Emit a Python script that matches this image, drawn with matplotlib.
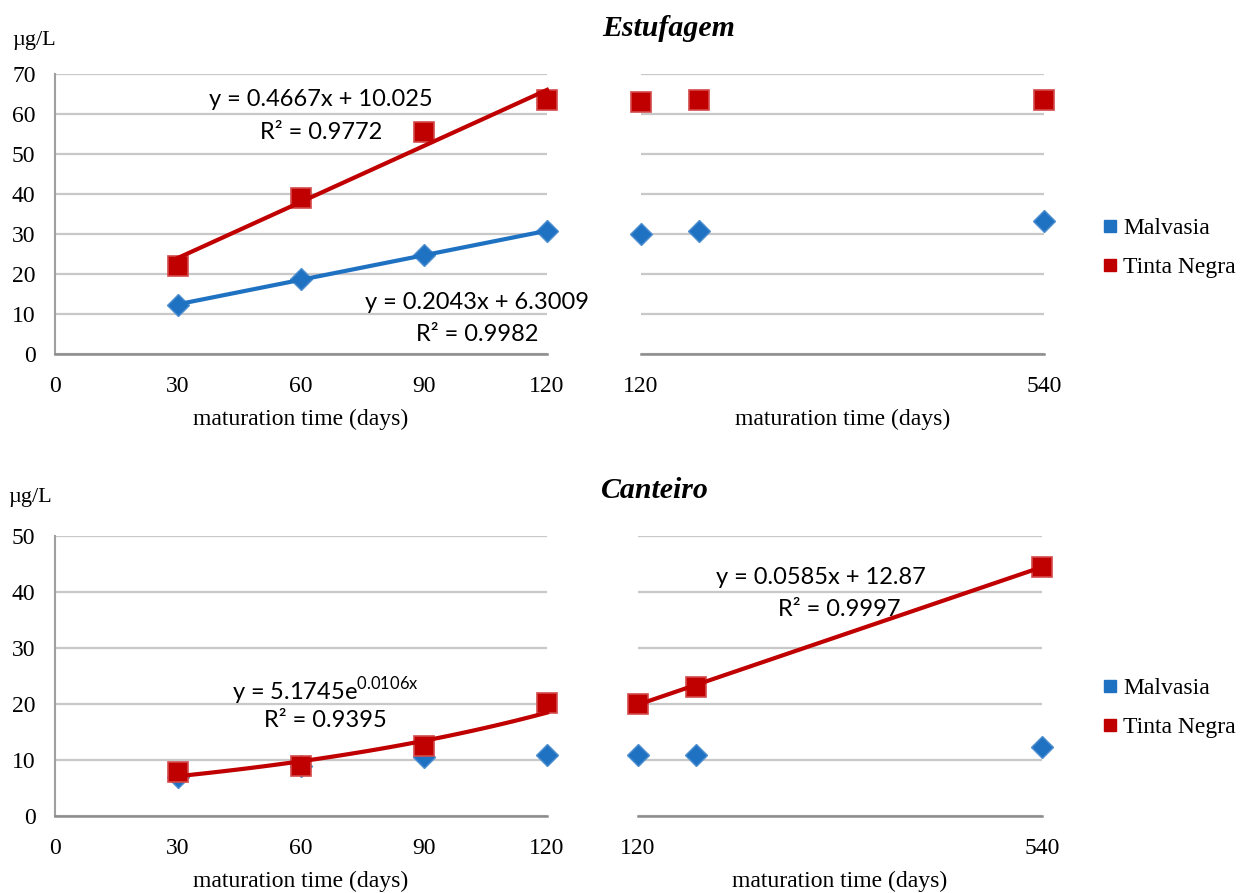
import numpy as np
import matplotlib
matplotlib.use('Agg')
import matplotlib.pyplot as plt
from matplotlib.lines import Line2D

# ---- data ----
days_short = [30, 60, 90, 120]
days_long = [120, 180, 540]

est_malv_short = [12.2, 18.8, 24.8, 30.7]
est_tinta_short = [22.1, 39.1, 55.4, 63.4]
est_malv_long = [30.1, 30.8, 33.3]
est_tinta_long = [63.0, 63.4, 63.6]

can_malv_short = [6.9, 8.9, 10.6, 10.9]
can_tinta_short = [7.9, 8.9, 12.5, 20.2]
can_malv_long = [10.9, 10.9, 12.3]
can_tinta_long = [20.0, 23.0, 44.4]

# trendline coefficients (as printed in the chart)
est_tinta_fit = (0.4667, 10.025, 0.9772)
est_malv_fit = (0.2043, 6.3009, 0.9982)
can_tinta_exp = (5.1745, 0.0106, 0.9395)
can_tinta_long_fit = (0.0585, 12.87, 0.9997)

blue = '#1f72c2'
blue_edge = '#4f8fd0'
red = '#c00000'
red_edge = '#d44a4a'
serif = 'Liberation Serif'
sans = 'Lato'
fs = 17
efs = 17

plt.rcParams['mathtext.fontset'] = 'custom'
plt.rcParams['mathtext.rm'] = sans

fig = plt.figure(figsize=(12.47, 8.93), dpi=100)
W, H = 1247.0, 893.0

def px_axes(l, r, t, b):
    return fig.add_axes([l / W, 1 - b / H, (r - l) / W, (b - t) / H])

ax1 = px_axes(55, 547, 74, 354)
ax2 = px_axes(641, 1044, 74, 354)
ax3 = px_axes(55, 547, 536, 816)
ax4 = px_axes(638, 1042, 536, 816)

def style(ax, ymax, xlim, xticks, left):
    ax.set_xlim(*xlim)
    ax.set_ylim(0, ymax)
    ax.set_yticks(np.arange(0, ymax + 1, 10))
    ax.set_xticks(xticks)
    ax.grid(axis='y', color='#c8c8c8', linewidth=1.6)
    ax.set_axisbelow(True)
    for s in ['top', 'right']:
        ax.spines[s].set_visible(False)
    ax.spines['bottom'].set_color('#8c8c8c')
    ax.spines['bottom'].set_linewidth(1.8)
    if left:
        ax.spines['left'].set_color('#a0a0a0')
        ax.spines['left'].set_linewidth(1.5)
        ax.tick_params(axis='y', length=0, pad=14, labelsize=fs)
        for t in ax.get_yticklabels():
            t.set_fontfamily(serif)
    else:
        ax.spines['left'].set_visible(False)
        ax.tick_params(axis='y', length=0, labelleft=False)
    ax.tick_params(axis='x', length=0, pad=16, labelsize=fs)
    for t in ax.get_xticklabels():
        t.set_fontfamily(serif)
    ax.set_xlabel('maturation time (days)', fontfamily=serif, fontsize=fs, labelpad=8)

style(ax1, 70, (0, 120), [0, 30, 60, 90, 120], True)
style(ax2, 70, (120, 540), [120, 540], False)
style(ax3, 50, (0, 120), [0, 30, 60, 90, 120], True)
style(ax4, 50, (120, 540), [120, 540], False)

def pts(ax, x, y, kind):
    if kind == 'm':
        ax.plot(x, y, 'D', color=blue, mec=blue_edge, mew=1, ms=11.5, ls='none', clip_on=False, zorder=3)
    else:
        ax.plot(x, y, 's', color=red, mec=red_edge, mew=1.2, ms=14.5, ls='none', clip_on=False, zorder=4)

# top-left
pts(ax1, days_short, est_malv_short, 'm')
pts(ax1, days_short, est_tinta_short, 't')
xs = np.array([30, 120])
ax1.plot(xs, est_malv_fit[0] * xs + est_malv_fit[1], color=blue, lw=3, zorder=5, clip_on=False)
ax1.plot(xs, est_tinta_fit[0] * xs + est_tinta_fit[1], color=red, lw=3, zorder=5, clip_on=False)
ax1.text(64.9, 63.5, 'y = %.4fx + %.3f' % est_tinta_fit[:2], fontfamily=sans, fontsize=efs, ha='center', va='center')
ax1.text(64.9, 55.3, 'R² = %.4f' % est_tinta_fit[2], fontfamily=sans, fontsize=efs, ha='center', va='center')
ax1.text(103, 12.8, 'y = %.4fx + %.4f' % est_malv_fit[:2], fontfamily=sans, fontsize=efs, ha='center', va='center')
ax1.text(103, 4.8, 'R² = %.4f' % est_malv_fit[2], fontfamily=sans, fontsize=efs, ha='center', va='center')

# top-right
pts(ax2, days_long, est_malv_long, 'm')
pts(ax2, days_long, est_tinta_long, 't')

# bottom-left
pts(ax3, days_short, can_malv_short, 'm')
pts(ax3, days_short, can_tinta_short, 't')
xc = np.linspace(30, 120, 100)
ax3.plot(xc, can_tinta_exp[0] * np.exp(can_tinta_exp[1] * xc), color=red, lw=3, zorder=5, clip_on=False)
ax3.text(65.9, 22.4, r'y = 5.1745e$^{\mathrm{0.0106x}}$', fontfamily=sans, fontsize=efs, ha='center', va='center')
ax3.text(65.9, 17.1, 'R² = %.4f' % can_tinta_exp[2], fontfamily=sans, fontsize=efs, ha='center', va='center')

# bottom-right
pts(ax4, days_long, can_malv_long, 'm')
pts(ax4, days_long, can_tinta_long, 't')
xl = np.array([120, 540])
ax4.plot(xl, can_tinta_long_fit[0] * xl + can_tinta_long_fit[1], color=red, lw=3, zorder=5, clip_on=False)
ax4.text(310, 42.5, 'y = %.4fx + %.2f' % can_tinta_long_fit[:2], fontfamily=sans, fontsize=efs, ha='center', va='center')
ax4.text(329, 36.8, 'R² = %.4f' % can_tinta_long_fit[2], fontfamily=sans, fontsize=efs, ha='center', va='center')

# titles and units
fig.text(669 / W, 1 - 28 / H, 'Estufagem', fontfamily=serif, fontsize=21.5, fontweight='bold', fontstyle='italic', ha='center', va='center')
fig.text(655 / W, 1 - 490 / H, 'Canteiro', fontfamily=serif, fontsize=21.5, fontweight='bold', fontstyle='italic', ha='center', va='center')
fig.text(34 / W, 1 - 41 / H, 'µg/L', fontfamily=serif, fontsize=16, ha='center', va='center')
fig.text(30 / W, 1 - 497 / H, 'µg/L', fontfamily=serif, fontsize=16, ha='center', va='center')

handles = [Line2D([], [], marker='s', color=blue, ls='none', ms=8.5),
           Line2D([], [], marker='s', color=red, ls='none', ms=8.5)]
for yc in (248, 708):
    fig.legend(handles, ['Malvasia', 'Tinta Negra'], loc='center left',
               bbox_to_anchor=(1082 / W, 1 - yc / H), frameon=False,
               handlelength=0.6, handletextpad=0.25, labelspacing=0.75,
               prop={'family': serif, 'size': fs})

fig.savefig('out.png', dpi=100)
